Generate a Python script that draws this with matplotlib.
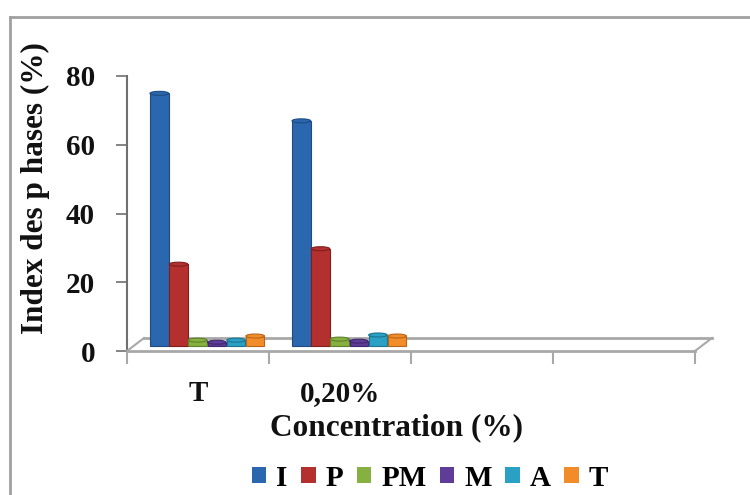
import matplotlib
matplotlib.use("Agg")
import matplotlib.pyplot as plt
import matplotlib.transforms as mtransforms
from matplotlib.patches import Patch, Ellipse
from matplotlib.lines import Line2D

categories = ["T", "0,20%", "", ""]
series_names = ["I", "P", "PM", "M", "A", "T"]
I_vals = [73.5, 65.5]
P_vals = [23.8, 28.3]
PM_vals = [1.7, 2.0]
M_vals = [1.1, 1.4]
A_vals = [1.7, 3.2]
T_vals = [2.9, 2.9]
series_values = [I_vals, P_vals, PM_vals, M_vals, A_vals, T_vals]
colors = ["#2B67AE", "#B3302E", "#86B140", "#5E3C97", "#2AA0C4", "#F28C28"]
edge_colors = ["#1D4B82", "#7E1F1E", "#5E8229", "#3F2870", "#1B7490", "#B8641A"]
y_ticks = [0, 20, 40, 60, 80]

plt.rcParams["font.family"] = ["Liberation Serif", "DejaVu Serif"]
plt.rcParams["font.weight"] = "bold"

fig = plt.figure(figsize=(7.5, 4.95), dpi=100)
W, H = 750, 495
ax_l, ax_r, ax_b, ax_t = 127, 695, 351, 76
ax = fig.add_axes([ax_l / W, 1 - ax_b / H, (ax_r - ax_l) / W, (ax_b - ax_t) / H])
ax.set_xlim(0, len(categories))
ax.set_ylim(0, 80)
for s in ax.spines.values():
    s.set_visible(False)
ax.patch.set_visible(False)

# 3D floor
back = mtransforms.offset_copy(ax.transData, fig=fig, x=17, y=13, units="dots")
floor_col = "#A8A8A8"
ax.plot([0, len(categories)], [0, 0], color=floor_col, lw=2, clip_on=False, zorder=1)
ax.plot([0, len(categories)], [0, 0], color=floor_col, lw=2, clip_on=False,
        transform=back, zorder=1)
for xx in [0, len(categories)]:
    p0 = ax.transData.transform((xx, 0))
    p1 = back.transform((xx, 0))
    ax.add_line(Line2D([p0[0], p1[0]], [p0[1], p1[1]], color=floor_col, lw=1.5,
                       transform=None, clip_on=False))

# y axis line
ax.plot([0, 0], [0, 80], color="#707070", lw=1.5, clip_on=False, zorder=1)

# bars
bar_tr = mtransforms.offset_copy(ax.transData, fig=fig, x=0, y=5, units="dots")
group_start = 0.16
bw = 0.135
px_per_unit = (ax_b - ax_t) / 80.0
cap_h = 4.0 / px_per_unit
for j, (vals, c, ec) in enumerate(zip(series_values, colors, edge_colors)):
    xs = [i + group_start + j * bw + bw / 2 for i in range(len(vals))]
    ax.bar(xs, vals, width=bw * 0.97, color=c, edgecolor=ec, linewidth=0.8,
           transform=bar_tr, zorder=3)
    for x, v in zip(xs, vals):
        ax.add_patch(Ellipse((x, v), bw * 0.97, cap_h, facecolor=c, edgecolor=ec,
                             linewidth=0.8, transform=bar_tr, zorder=4))

# ticks
ax.set_yticks(y_ticks)
ax.set_yticklabels([str(t) for t in y_ticks], fontsize=21, fontweight="bold", color="#111111")
ax.tick_params(axis="y", length=8, width=1.2, color="#707070", pad=15, direction="out")
ax.set_xticks([i + 0.5 for i in range(len(categories))])
ax.set_xticklabels(categories, fontsize=21, fontweight="bold", color="#111111")
ax.set_xticks(range(len(categories) + 1), minor=True)
ax.tick_params(axis="x", which="major", length=0, pad=21)
ax.tick_params(axis="x", which="minor", length=9, width=1.5, color=floor_col, direction="out")

fig.text(397 / W, 1 - 428 / H, "Concentration (%)", ha="center", va="center",
         fontsize=22.5, fontweight="bold", color="#111111")
fig.text(35 / W, 1 - 188 / H, "Index des p hases (%)", ha="center", va="center",
         rotation=90, fontsize=22.5, fontweight="bold", color="#111111")

handles = [Patch(facecolor=c, edgecolor="none") for c in colors]
fig.legend(handles, series_names, loc="center", bbox_to_anchor=(430 / W, 1 - 478 / H),
           ncol=6, frameon=False, prop={"family": "Liberation Serif", "weight": "bold", "size": 21},
           handlelength=0.5, handleheight=0.5, handletextpad=0.35, columnspacing=0.45)

# outer frame
fig.add_artist(Line2D([10 / W, 10 / W], [0, 1 - 17 / H], color="#A0A0A0", lw=2,
                      transform=fig.transFigure))
fig.add_artist(Line2D([10 / W, 1], [1 - 17 / H, 1 - 17 / H], color="#A0A0A0", lw=2,
                      transform=fig.transFigure))

fig.savefig("out.png", dpi=100)
